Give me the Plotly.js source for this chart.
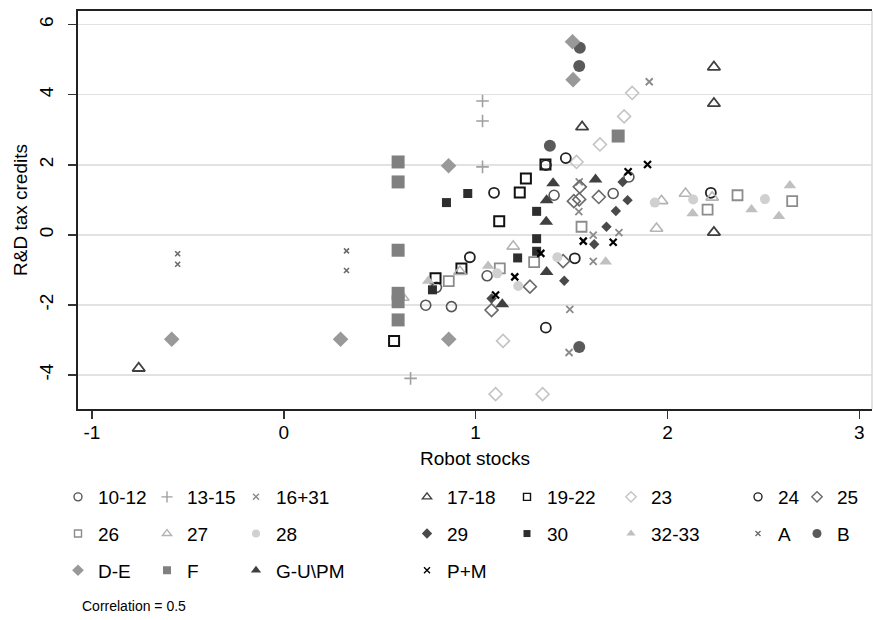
<!DOCTYPE html>
<html><head><meta charset="utf-8">
<script src="https://cdn.plot.ly/plotly-3.0.1.min.js"></script>
<style>html,body{margin:0;padding:0;background:#fff}#chart{width:873px;height:620px}</style>
</head><body><div id="chart"></div>
<script>
// ---- data ----
const names = ["10-12","13-15","16+31","17-18","19-22","23","24","25","26","27","28","29","30","32-33","A","B","D-E","F","G-U\\PM","P+M"];

const x_10_12 = [0.740, 0.874, 0.796, 1.060, 1.409, 1.717, 1.799];
const y_10_12 = [-2.01, -2.05, -1.50, -1.17, 1.13, 1.18, 1.65];

const x_13_15 = [1.036, 1.036, 1.036, 0.661];
const y_13_15 = [3.82, 3.25, 1.94, -4.10];

const x_16_31 = [1.905, 1.540, 1.538, 1.613, 1.747, 1.613, 1.491, 1.487];
const y_16_31 = [4.37, 1.51, 0.66, -0.01, 0.06, -0.76, -2.13, -3.36];

const x_17_18 = [-0.756, 1.555, 2.242, 2.242, 2.242];
const y_17_18 = [-3.81, 3.08, 4.79, 3.75, 0.07];

const x_19_22 = [0.575, 0.791, 0.926, 1.123, 1.230, 1.262, 1.364];
const y_19_22 = [-3.03, -1.24, -0.96, 0.39, 1.21, 1.61, 2.01];

const x_23 = [1.526, 1.648, 1.774, 1.816, 1.143, 1.104, 1.349];
const y_23 = [2.08, 2.58, 3.38, 4.05, -3.03, -4.55, -4.55];

const x_24 = [1.096, 1.470, 1.366, 0.970, 1.517, 1.366, 2.226];
const y_24 = [1.20, 2.19, 1.99, -0.64, -0.67, -2.65, 1.20];

const x_25 = [1.543, 1.512, 1.540, 1.642, 1.283, 1.083, 1.456];
const y_25 = [1.37, 0.96, 1.01, 1.08, -1.48, -2.15, -0.75];

const x_26 = [1.552, 1.305, 1.126, 0.860, 2.209, 2.365, 2.650];
const y_26 = [0.23, -0.78, -0.96, -1.32, 0.72, 1.13, 0.96];

const x_27 = [1.196, 0.918, 1.969, 2.094, 2.233, 1.943, 0.620];
const y_27 = [-0.33, -1.05, 0.97, 1.18, 1.07, 0.18, -1.79];

const x_28 = [1.934, 2.134, 2.508, 1.112, 1.222, 1.426];
const y_28 = [0.92, 1.01, 1.02, -1.10, -1.46, -0.64];

const x_29 = [1.766, 1.792, 1.731, 1.682, 1.618, 1.462, 1.083];
const y_29 = [1.51, 0.99, 0.68, 0.23, -0.27, -1.31, -1.82];

const x_30 = [0.848, 0.959, 1.318, 1.318, 1.318, 1.219, 0.775];
const y_30 = [0.92, 1.18, 0.67, -0.11, -0.47, -0.66, -1.57];

const x_32_33 = [0.753, 1.065, 2.131, 2.438, 2.638, 2.581, 1.678];
const y_32_33 = [-1.32, -0.89, 0.61, 0.72, 1.41, 0.53, -0.77];

const x_A = [-0.553, -0.553, 0.327, 0.327];
const y_A = [-0.54, -0.84, -0.46, -1.02];

const x_B = [1.543, 1.540, 1.387, 1.540];
const y_B = [5.34, 4.82, 2.54, -3.20];

const x_DE = [-0.584, 0.296, 0.860, 0.859, 1.505, 1.508];
const y_DE = [-2.98, -2.98, -2.98, 1.97, 5.51, 4.43];

const x_F = [0.596, 0.596, 0.596, 0.596, 0.596, 0.596, 1.743];
const y_F = [2.08, 1.51, -0.44, -1.67, -1.91, -2.43, 2.82];

const x_GU = [1.404, 1.370, 1.368, 1.625, 1.370, 1.139];
const y_GU = [1.47, 0.99, 0.37, 1.58, -1.06, -1.98];

const x_PM = [1.896, 1.795, 1.340, 1.204, 1.561, 1.717, 1.104];
const y_PM = [2.01, 1.80, -0.53, -1.20, -0.18, -0.21, -1.72];

const xTicks = [-1, 0, 1, 2, 3];
const xTickText = ["-1", "0", "1", "2", "3"];
const yTicks = [-4, -2, 0, 2, 4, 6];
const yTickText = ["-4", "-2", "0", "2", "4", "6"];
const correlationText = "Correlation = 0.5";

// ---- styles ----
const seriesData = [
  [x_10_12, y_10_12], [x_13_15, y_13_15], [x_16_31, y_16_31], [x_17_18, y_17_18],
  [x_19_22, y_19_22], [x_23, y_23], [x_24, y_24], [x_25, y_25], [x_26, y_26],
  [x_27, y_27], [x_28, y_28], [x_29, y_29], [x_30, y_30], [x_32_33, y_32_33],
  [x_A, y_A], [x_B, y_B], [x_DE, y_DE], [x_F, y_F], [x_GU, y_GU], [x_PM, y_PM]
];
// symbol, color, size, line width, legend size
const styles = [
  ["circle-open", "#555555", 10, 1.6, 8],
  ["cross-thin-open", "#a0a0a0", 9, 1.6, 8],
  ["x-thin-open", "#8a8a8a", 7, 1.8, 6],
  ["triangle-up-open", "#404040", 11, 1.8, 8],
  ["square-open", "#111111", 10, 2, 7],
  ["diamond-open", "#c4c4c4", 10, 1.6, 8],
  ["circle-open", "#222222", 10, 1.8, 8],
  ["diamond-open", "#6a6a6a", 10, 1.6, 8],
  ["square-open", "#8c8c8c", 10, 1.8, 7],
  ["triangle-up-open", "#b4b4b4", 11, 1.6, 8],
  ["circle", "#d0d0d0", 10, 0, 8],
  ["diamond", "#4a4a4a", 8, 0, 8],
  ["square", "#2e2e2e", 9, 0, 7],
  ["triangle-up", "#c0c0c0", 11, 0, 8],
  ["x-thin-open", "#6a6a6a", 5, 1.6, 5],
  ["circle", "#5a5a5a", 12, 0, 9],
  ["diamond", "#999999", 12, 0, 9],
  ["square", "#808080", 13, 0, 8],
  ["triangle-up", "#404040", 12, 0, 9],
  ["x-thin-open", "#000000", 7, 2.2, 6]
];
// legend column of each series
const legendCol = [1,2,3,4,5,6,7,8,1,2,3,4,5,6,7,8,1,2,3,4];
const legendTextStart = [98, 187, 276, 447, 547, 651, 778, 837];

const FONT = "Liberation Sans, Arial, Helvetica, sans-serif";
const traces = [];
seriesData.forEach((d, i) => {
  const st = styles[i];
  const mk = {symbol: st[0], color: st[1], size: st[2], line: {color: st[1], width: st[3]}};
  traces.push({type: "scatter", mode: "markers", x: d[0], y: d[1], name: names[i],
    marker: mk, showlegend: false, hoverinfo: "x+y+name", cliponaxis: false});
});
seriesData.forEach((d, i) => {
  const st = styles[i];
  const lg = legendCol[i] === 1 ? "legend" : "legend" + legendCol[i];
  traces.push({type: "scatter", mode: "markers", x: [null], y: [null], name: names[i],
    marker: {symbol: st[0], color: st[1], size: st[4], line: {color: st[1], width: Math.min(st[3], 1.4)}},
    legend: lg, legendgroup: "g" + i, showlegend: true, hoverinfo: "skip"});
});

const L = 78, R = 1, T = 11, B = 211;
const plotW = 873 - L - R, plotH = 620 - T - B;
const layout = {
  width: 873, height: 620,
  margin: {l: L, r: R, t: T, b: B, pad: 0},
  paper_bgcolor: "#ffffff", plot_bgcolor: "#ffffff",
  font: {family: FONT, size: 19, color: "#000"},
  xaxis: {range: [-1.0725, 3.066], tickvals: xTicks, ticktext: xTickText, ticks: "outside", ticklen: 8, tickwidth: 1.5,
    tickcolor: "#333", showline: true, linecolor: "#222", linewidth: 2, mirror: true,
    showgrid: false, zeroline: false, tickfont: {size: 19}, ticklabelstandoff: -3,
    title: {text: "Robot stocks", font: {size: 19}, standoff: 10}},
  yaxis: {range: [-4.973, 6.39], tickvals: yTicks, ticktext: yTickText, ticks: "outside", ticklen: 8, tickwidth: 1.5,
    tickcolor: "#333", showline: true, linecolor: "#222", linewidth: 2,
    showgrid: true, gridcolor: "#e2e2e2", gridwidth: 1.5, zeroline: false, tickangle: -90,
    tickfont: {size: 19}, ticklabelstandoff: 7,
    title: {text: "R&D tax credits", font: {size: 19}, standoff: 4}},
  shapes: [{type: "line", xref: "paper", yref: "paper", x0: 1, x1: 1, y0: 0, y1: 1,
    line: {color: "#d8d8d8", width: 1.5}}],
  annotations: [{xref: "paper", yref: "paper", x: (80 - L) / plotW, y: (T + plotH - 606) / plotH,
    xanchor: "left", yanchor: "middle", showarrow: false, text: correlationText,
    font: {family: FONT, size: 14, color: "#000"}}]
};
for (let c = 1; c <= 8; c++) {
  const key = c === 1 ? "legend" : "legend" + c;
  layout[key] = {
    x: (legendTextStart[c - 1] - 40 - L) / plotW, xanchor: "left",
    y: (T + plotH - 478) / plotH, yanchor: "top",
    orientation: "v", bgcolor: "rgba(0,0,0,0)", borderwidth: 0,
    font: {family: FONT, size: 19, color: "#000"},
    tracegroupgap: 9, itemwidth: 30, itemclick: false, itemdoubleclick: false
  };
}
Plotly.newPlot("chart", traces, layout, {displayModeBar: false, staticPlot: true});
</script>
</body></html>
